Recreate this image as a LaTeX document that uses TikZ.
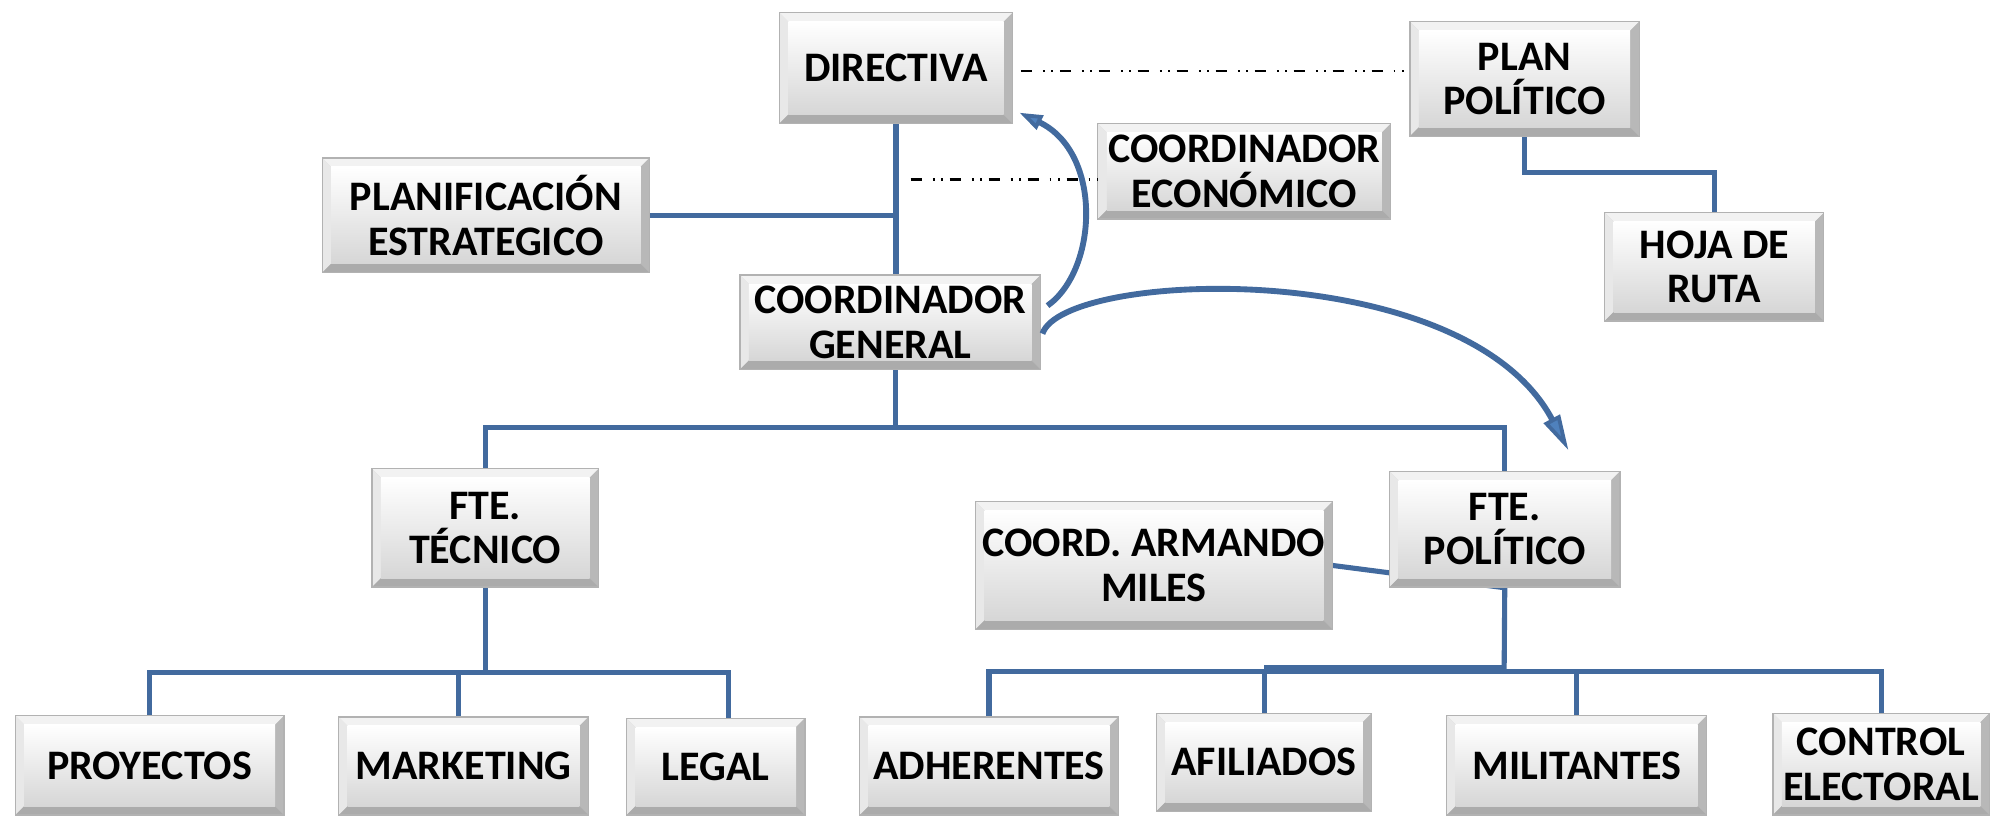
\documentclass[tikz,border=0pt]{standalone}
\usepackage{fontspec}
\newfontfamily\boxfont{Carlito}
\usetikzlibrary{arrows.meta,backgrounds,calc}
\definecolor{lineblue}{RGB}{66,106,158}
\definecolor{tipblue}{RGB}{79,129,189}
\newcommand\bvw{3.5pt}
\tikzset{
  orgbox/.style={draw=black!30, line width=0.5pt, align=center, inner sep=0pt,
    font=\boxfont\bfseries\fontsize{16.5}{17.5}\selectfont,
    path picture={
      \fill[black!20] (path picture bounding box.south west) rectangle (path picture bounding box.north east);
      \fill[black!5] (path picture bounding box.north west) -- (path picture bounding box.north east)
        -- ([xshift=-\bvw,yshift=-\bvw]path picture bounding box.north east)
        -- ([xshift=\bvw,yshift=-\bvw]path picture bounding box.north west) -- cycle;
      \fill[black!9] (path picture bounding box.north west) -- ([xshift=\bvw,yshift=-\bvw]path picture bounding box.north west)
        -- ([xshift=\bvw,yshift=\bvw]path picture bounding box.south west) -- (path picture bounding box.south west) -- cycle;
      \fill[black!28] (path picture bounding box.north east) -- ([xshift=-\bvw,yshift=-\bvw]path picture bounding box.north east)
        -- ([xshift=-\bvw,yshift=\bvw]path picture bounding box.south east) -- (path picture bounding box.south east) -- cycle;
      \fill[black!33] (path picture bounding box.south west) -- ([xshift=\bvw,yshift=\bvw]path picture bounding box.south west)
        -- ([xshift=-\bvw,yshift=\bvw]path picture bounding box.south east) -- (path picture bounding box.south east) -- cycle;
      \shade[top color=white, middle color=black!4, bottom color=black!16]
        ([xshift=\bvw,yshift=-\bvw]path picture bounding box.north west)
        rectangle ([xshift=-\bvw,yshift=\bvw]path picture bounding box.south east);
    }},
  link/.style={draw=lineblue, line width=2pt},
  dashlink/.style={draw=black, line width=0.9pt,
    dash pattern=on 4.5pt off 4.2pt on 0.7pt off 2.6pt on 0.7pt off 2.6pt},
  bigarrow/.style={draw=lineblue, line width=2.3pt, line join=round,
    -{Triangle[length=14pt,width=7pt,fill=tipblue,line width=1.5pt]}},
  smallarrow/.style={draw=lineblue, line width=2.3pt, line join=round,
    -{Triangle[length=9pt,width=6pt,fill=tipblue,line width=1.5pt]}}
}
\begin{document}
\begin{tikzpicture}[x=0.5pt,y=-0.5pt]
\useasboundingbox (0,0) rectangle (1568,642);

% boxes
\node[orgbox, minimum width=91.5pt, minimum height=43.5pt] (dir) at (703.5,53.5) {DIRECTIVA};
\node[orgbox, minimum width=90pt, minimum height=45pt] (plan) at (1197,62) {PLAN\\POLÍTICO};
\node[orgbox, minimum width=115pt, minimum height=37.5pt] (econ) at (977,134.5) {COORDINADOR\\ECONÓMICO};
\node[orgbox, minimum width=128.5pt, minimum height=45pt] (planif) at (381.5,169) {PLANIFICACIÓN\\ESTRATEGICO};
\node[orgbox, minimum width=86pt, minimum height=42.5pt] (hoja) at (1346,209.5) {HOJA DE\\RUTA};
\node[orgbox, minimum width=118pt, minimum height=37pt] (cg) at (699,253) {COORDINADOR\\GENERAL};
\node[orgbox, minimum width=89pt, minimum height=46.5pt] (ftec) at (381,414.5) {FTE.\\TÉCNICO};
\node[orgbox, minimum width=90.5pt, minimum height=45.5pt] (fpol) at (1181.5,415.5) {FTE.\\POLÍTICO};
\node[orgbox, minimum width=140pt, minimum height=50pt] (arm) at (906,444) {COORD. ARMANDO\\MILES};
\node[orgbox, minimum width=105.5pt, minimum height=39pt] (proy) at (117.5,601) {PROYECTOS};
\node[orgbox, minimum width=98pt, minimum height=38.5pt] (mkt) at (364,601.5) {MARKETING};
\node[orgbox, minimum width=70pt, minimum height=38pt] (legal) at (562,602) {LEGAL};
\node[orgbox, minimum width=101.5pt, minimum height=38.5pt] (adh) at (776.5,601.5) {ADHERENTES};
\node[orgbox, minimum width=84.5pt, minimum height=38.5pt] (afil) at (992.5,598.5) {AFILIADOS};
\node[orgbox, minimum width=102pt, minimum height=39pt] (mil) at (1238,601) {MILITANTES};
\node[orgbox, minimum width=85pt, minimum height=40pt] (ctrl) at (1477,600) {CONTROL\\ELECTORAL};

\begin{scope}[on background layer]
  % main spine
  \draw[link] (dir.south) -- (dir.south |- cg.north);
  \draw[link] (planif.east) -- (planif.east -| dir.south);
  \coordinate (busTop) at (703,336);
  \draw[link] (cg.south -| busTop) -- (busTop) -| (ftec.north);
  \draw[link] (busTop) -| (fpol.north);
  % plan -> hoja
  \draw[link] (plan.south) -- ++(0,28) -| (hoja.north);
  % tecnico branch
  \coordinate (tb) at (381,528);
  \draw[link] (ftec.south) -- (tb);
  \coordinate (legalTop) at ([xshift=5pt]legal.north);
  \coordinate (mktTop) at ([xshift=-2pt]mkt.north);
  \draw[link] (proy.north) |- (tb) -| (legalTop);
  \draw[link] (mktTop) -- (mktTop |- tb);
  % politico branch
  \coordinate (pb) at (1181,527);
  \draw[link] (fpol.south) -- (pb);
  \draw[link] (adh.north) |- (pb) -| (ctrl.north);
  \draw[link] (afil.north) -- (afil.north |- pb);
  \draw[link] (mil.north) -- (mil.north |- pb);
  \draw[lineblue, line width=3.4pt] ($(afil.north |- pb)+(0,-1.5)$) -- ($(pb)+(0,-1.5)$);
  % armando
  \draw[link] (arm.east) -- (fpol.south);
\end{scope}

% dash-dot relations
\coordinate (d1) at ($(dir.east)+(6,2)$);
\draw[dashlink] (d1) -- (d1 -| plan.west);
\coordinate (econStart) at (715,141);
\draw[dashlink] (econStart) -- (econStart -| econ.west);

% curved arrows
\draw[smallarrow] ([xshift=2.5pt,yshift=6.5pt]cg.east) .. controls (862,212) and (866,120) .. ([xshift=2.5pt,yshift=4.5pt]dir.south east);
\draw[bigarrow] ([xshift=0.5pt,yshift=-4.5pt]cg.east) .. controls (835,212) and (1150,200) .. ([xshift=25pt,yshift=8pt]fpol.north);
\end{tikzpicture}
\end{document}
